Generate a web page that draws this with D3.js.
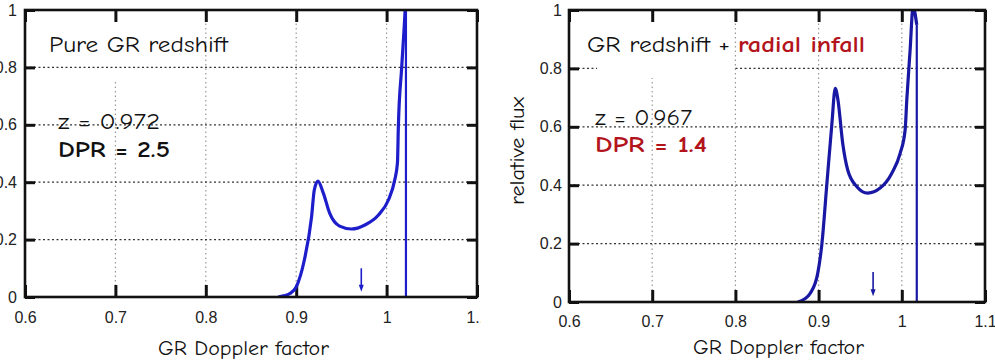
<!DOCTYPE html>
<html>
<head>
<meta charset="utf-8">
<script src="https://cdn.jsdelivr.net/npm/d3@7"></script>
<style>
  body { margin: 0; background: #fff; }
  svg { display: block; }
  .hand { font-family: "Comic Sans MS", "Comic Neue", "Noto Sans", sans-serif; }
  .tick text { font-family: "Liberation Sans Narrow", "Liberation Sans", sans-serif; font-size: 16px; fill: #222; }
</style>
</head>
<body>
<div id="chart-area"></div>
<script>
// two panels: pure GR redshift (left) and GR redshift + radial infall (right)

var xTicks = [0.6, 0.7, 0.8, 0.9, 1.0, 1.1];
var xTickLabels = ["0.6", "0.7", "0.8", "0.9", "1", "1.1"];
var yTicks = [0, 0.2, 0.4, 0.6, 0.8, 1];
var yTickLabels = ["0", "0.2", "0.4", "0.6", "0.8", "1"];
var gridX = [0.7, 0.8, 0.9, 1.0];
var gridY = [0.2, 0.4, 0.6, 0.8];

// left curve
var dopplerL = [0.880, 0.886, 0.893, 0.900, 0.909, 0.917, 0.920, 0.924, 0.930, 0.937, 0.948, 0.961,
                0.976, 0.991, 1.002, 1.009, 1.012, 1.013, 1.0167, 1.0205, 1.0214];
var fluxL    = [0.000, 0.004, 0.012, 0.035, 0.129, 0.279, 0.373, 0.404, 0.362, 0.292, 0.247, 0.237,
                0.251, 0.286, 0.338, 0.408, 0.467, 0.593, 0.800, 1.000, 1.060];

// right curve
var dopplerR = [0.875, 0.883, 0.890, 0.899, 0.904, 0.910, 0.916, 0.920, 0.923, 0.929, 0.935, 0.946,
                0.959, 0.974, 0.988, 0.998, 1.004, 1.006, 1.010, 1.0135, 1.018];
var fluxR    = [0.000, 0.010, 0.030, 0.099, 0.200, 0.407, 0.612, 0.732, 0.697, 0.543, 0.452, 0.395,
                0.373, 0.390, 0.441, 0.509, 0.589, 0.692, 0.863, 1.010, 0.949];

var arrowL = 0.972, arrowR = 0.9655;

var svg = d3.select("#chart-area")
    .append("svg")
        .attr("width", 995)
        .attr("height", 364);

svg.append("defs").append("clipPath")
    .attr("id", "leftCut")
  .append("rect")
    .attr("x", 0).attr("y", 0).attr("width", 481).attr("height", 364);

var panels = [
  {id: "L", xr: [25, 477], yr: [297, 10], xs: dopplerL, ys: fluxL, arrow: arrowL, arrowTop: 0.10, arrowTip: 0.018,
   color: "#1d1dcc", clip: true, labelPad: 8, xPad: 15,
   mask: {x: 40, y: 12, w: 160, h: 68, after: false},
   xLabel: {x: 243, y: 355}, yLabel: null},
  {id: "R", xr: [569, 985], yr: [302, 10], xs: dopplerR, ys: fluxR, arrow: arrowR, arrowTop: 0.103, arrowTip: 0.02,
   color: "#1818a4", clip: false, labelPad: 7, xPad: 14,
   mask: {x: 597, y: 12, w: 136, h: 66, after: true},
   xLabel: {x: 778, y: 354}, yLabel: {x: 524, y: 151}}
];

panels.forEach(function(p) {
  var g = svg.append("g");
  if (p.clip) g.attr("clip-path", "url(#leftCut)");

  var x = d3.scaleLinear().domain([0.6, 1.1]).range(p.xr);
  var y = d3.scaleLinear().domain([0, 1]).range(p.yr);

  // grid
  g.selectAll(".gx").data(gridX).enter().append("line")
    .attr("x1", function(d) { return x(d); }).attr("x2", function(d) { return x(d); })
    .attr("y1", y(1)).attr("y2", y(0))
    .attr("stroke", "#999").attr("stroke-width", 1.2).attr("stroke-dasharray", "1.5,3");

  function mask() {
    g.append("rect").attr("x", p.mask.x).attr("y", p.mask.y)
      .attr("width", p.mask.w).attr("height", p.mask.h).attr("fill", "#fff");
  }
  if (!p.mask.after) mask();

  g.selectAll(".gy").data(gridY).enter().append("line")
    .attr("x1", x(0.6)).attr("x2", x(1.1))
    .attr("y1", function(d) { return y(d); }).attr("y2", function(d) { return y(d); })
    .attr("stroke", "#333").attr("stroke-width", 1.3).attr("stroke-dasharray", "2,2.5");

  if (p.mask.after) mask();

  // axes (ticks point inward)
  var bottom = g.append("g").attr("transform", "translate(0," + y(0) + ")")
    .call(d3.axisBottom(x).tickValues(xTicks).tickSize(-12).tickPadding(p.xPad)
      .tickFormat(function(d, i) { return xTickLabels[i]; }));
  var top = g.append("g").attr("transform", "translate(0," + y(1) + ")")
    .call(d3.axisTop(x).tickValues(xTicks).tickSize(-12).tickFormat(""));
  var left = g.append("g").attr("transform", "translate(" + x(0.6) + ",0)")
    .call(d3.axisLeft(y).tickValues(yTicks).tickSize(-10).tickPadding(p.labelPad)
      .tickFormat(function(d, i) { return yTickLabels[i]; }));
  var right = g.append("g").attr("transform", "translate(" + x(1.1) + ",0)")
    .call(d3.axisRight(y).tickValues(yTicks).tickSize(-10).tickFormat(""));
  [bottom, top, left, right].forEach(function(a) {
    a.select(".domain").remove();
    a.selectAll(".tick line").attr("stroke", "#111").attr("stroke-width", 3);
  });

  // curve, clipped to the frame
  var cid = "plot" + p.id;
  svg.select("defs").append("clipPath").attr("id", cid)
    .append("rect").attr("x", x(0.6)).attr("y", y(1))
    .attr("width", x(1.1) - x(0.6)).attr("height", y(0) - y(1));

  var pts = p.xs.map(function(d, i) { return [d, p.ys[i]]; });
  var line = d3.line()
    .x(function(d) { return x(d[0]); })
    .y(function(d) { return y(d[1]); })
    .curve(d3.curveMonotoneX);

  g.append("path").datum(pts)
    .attr("clip-path", "url(#" + cid + ")")
    .attr("d", line)
    .attr("fill", "none").attr("stroke", p.color)
    .attr("stroke-width", 3.2).attr("stroke-linejoin", "round");

  // sharp drop at the blue edge
  var last = pts[pts.length - 1];
  g.append("line")
    .attr("clip-path", "url(#" + cid + ")")
    .attr("x1", x(last[0])).attr("x2", x(last[0]))
    .attr("y1", y(last[1])).attr("y2", y(0))
    .attr("stroke", p.color).attr("stroke-width", 2.2);

  // frame
  g.append("rect")
    .attr("x", x(0.6)).attr("y", y(1))
    .attr("width", x(1.1) - x(0.6)).attr("height", y(0) - y(1))
    .attr("fill", "none").attr("stroke", "#111").attr("stroke-width", 2.6);

  // redshift arrow
  var ax = x(p.arrow);
  g.append("line")
    .attr("x1", ax).attr("x2", ax)
    .attr("y1", y(p.arrowTop)).attr("y2", y(p.arrowTip) - 5)
    .attr("stroke", p.color).attr("stroke-width", 1.6);
  g.append("path")
    .attr("d", "M" + (ax - 2.5) + "," + (y(p.arrowTip) - 7) + "L" + (ax + 2.5) + "," + (y(p.arrowTip) - 7) +
      "L" + ax + "," + y(p.arrowTip) + "Z")
    .attr("fill", p.color);

  // axis titles
  svg.append("text").attr("class", "hand")
    .attr("x", p.xLabel.x - 85).attr("y", p.xLabel.y)
    .attr("font-size", "20px").attr("fill", "#111")
    .attr("textLength", 171).attr("lengthAdjust", "spacingAndGlyphs")
    .text("GR Doppler factor");
  if (p.yLabel) {
    svg.append("text").attr("class", "hand")
      .attr("transform", "translate(" + p.yLabel.x + "," + (p.yLabel.y + 54) + ") rotate(-90)")
      .attr("font-size", "20px").attr("fill", "#111")
      .attr("textLength", 108).attr("lengthAdjust", "spacingAndGlyphs")
      .text("relative flux");
  }
});

// annotations
var red = "#b3141c";

function note(x, y, w, txt, bold, fill) {
  svg.append("text").attr("class", "hand")
    .attr("x", x).attr("y", y).attr("font-size", "22px")
    .attr("font-weight", bold ? "bold" : "normal").attr("fill", fill)
    .attr("textLength", w).attr("lengthAdjust", "spacingAndGlyphs")
    .text(txt);
}

note(49, 52, 179, "Pure GR redshift", false, "#111");
note(58, 129, 102, "z =  0.972", false, "#111");
note(58, 157, 112, "DPR = 2.5", true, "#111");

note(587, 52, 143, "GR redshift +", false, "#111");
note(738, 52, 127, "radial infall", true, red);
note(595, 125, 97, "z = 0.967", false, "#111");
note(595, 152, 112, "DPR = 1.4", true, red);
</script>
</body>
</html>
